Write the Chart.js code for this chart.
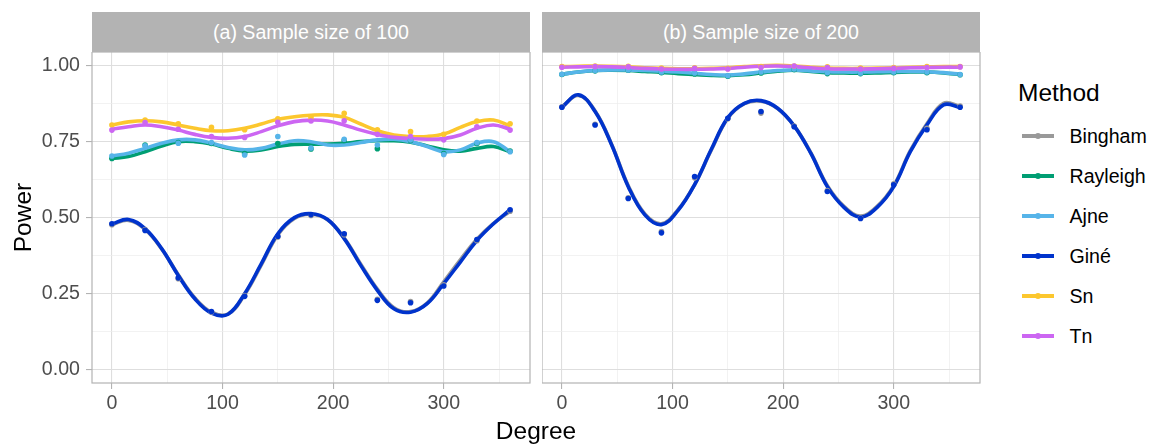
<!DOCTYPE html>
<html>
<head>
<meta charset="utf-8">
<script src="https://cdn.jsdelivr.net/npm/chart.js@4.4.1/dist/chart.umd.min.js"></script>
<style>
  html, body { margin:0; padding:0; background:#ffffff; }
  body { width:1152px; height:446px; position:relative; overflow:hidden; font-family:'Liberation Sans', Arial, sans-serif; }
  canvas { position:absolute; }
  .strip { position:absolute; top:12px; height:40px; background:#b3b3b3; color:#ffffff; font-size:19.6px;
           display:flex; align-items:center; justify-content:center; }
  .txt { position:absolute; line-height:1; white-space:nowrap; }
  .key { position:absolute; width:32px; height:4px; }
  .dot { position:absolute; width:6px; height:6px; border-radius:50%; }
</style>
</head>
<body>
<div class="strip" style="left:92px; width:438px;">(a) Sample size of 100</div>
<div class="strip" style="left:542px; width:438px;">(b) Sample size of 200</div>
<canvas id="ca" width="531" height="394" style="left:0px; top:52px;"></canvas>
<canvas id="cb" width="440" height="394" style="left:542px; top:52px;"></canvas>
<div class="txt" id="xtitle" style="left:536px; top:419px; font-size:24.5px; color:#000; transform:translateX(-50%);">Degree</div>
<div id="legend"></div>
<script>
// ---------- data ----------
const methods = ['Bingham', 'Rayleigh', 'Ajne', 'Giné', 'Sn', 'Tn'];
const methodColors = ['#999999', '#009E73', '#56B4E9', '#0033CC', '#FCC72E', '#CC66F2'];
const degrees = [0, 30, 60, 90, 120, 150, 180, 210, 240, 270, 300, 330, 360];
const curveDegrees = [0, 15, 30, 45, 60, 75, 90, 105, 120, 135, 150, 165, 180, 195, 210, 225, 240, 255, 270, 285, 300, 315, 330, 345, 360];
const xTickValues = [0, 50, 100, 150, 200, 250, 300, 350];
const yTickValues = [0, 0.125, 0.25, 0.375, 0.5, 0.625, 0.75, 0.875, 1.0];
const panelTitles = ['(a) Sample size of 100', '(b) Sample size of 200'];

// Panel (a): sample size 100 -- observed points
const binghamA  = [0.478, 0.462, 0.300, 0.190, 0.245, 0.437, 0.508, 0.445, 0.232, 0.225, 0.280, 0.425, 0.522];
const rayleighA = [0.696, 0.740, 0.748, 0.745, 0.712, 0.745, 0.727, 0.755, 0.728, 0.755, 0.712, 0.745, 0.720];
const ajneA     = [0.704, 0.737, 0.746, 0.748, 0.707, 0.768, 0.730, 0.759, 0.740, 0.757, 0.709, 0.748, 0.718];
const gineA     = [0.481, 0.459, 0.303, 0.192, 0.242, 0.440, 0.511, 0.448, 0.229, 0.221, 0.276, 0.429, 0.527];
const snA       = [0.806, 0.822, 0.810, 0.798, 0.790, 0.826, 0.830, 0.844, 0.790, 0.784, 0.775, 0.819, 0.810];
const tnA       = [0.789, 0.814, 0.792, 0.768, 0.765, 0.815, 0.819, 0.820, 0.775, 0.768, 0.757, 0.800, 0.789];
// Panel (a): smoothed curves
const binghamCurveA  = [0.478, 0.492, 0.462, 0.398, 0.313, 0.237, 0.190, 0.184, 0.248, 0.345, 0.444, 0.498, 0.512, 0.494, 0.434, 0.348, 0.266, 0.205, 0.192, 0.220, 0.290, 0.362, 0.430, 0.482, 0.522];
const rayleighCurveA = [0.696, 0.702, 0.718, 0.737, 0.751, 0.751, 0.743, 0.729, 0.720, 0.724, 0.735, 0.742, 0.743, 0.743, 0.746, 0.751, 0.754, 0.754, 0.749, 0.737, 0.724, 0.720, 0.729, 0.735, 0.718];
const ajneCurveA     = [0.704, 0.713, 0.729, 0.746, 0.757, 0.757, 0.746, 0.732, 0.724, 0.729, 0.743, 0.754, 0.751, 0.740, 0.740, 0.748, 0.757, 0.759, 0.751, 0.735, 0.718, 0.724, 0.746, 0.751, 0.718];
const gineCurveA     = [0.480, 0.495, 0.465, 0.399, 0.311, 0.234, 0.187, 0.183, 0.251, 0.349, 0.448, 0.501, 0.514, 0.495, 0.432, 0.344, 0.262, 0.201, 0.190, 0.218, 0.284, 0.355, 0.426, 0.481, 0.527];
const snCurveA       = [0.806, 0.816, 0.820, 0.816, 0.806, 0.795, 0.787, 0.787, 0.795, 0.809, 0.825, 0.833, 0.838, 0.839, 0.831, 0.809, 0.787, 0.773, 0.768, 0.768, 0.776, 0.798, 0.817, 0.822, 0.803];
const tnCurveA       = [0.792, 0.800, 0.806, 0.800, 0.789, 0.775, 0.765, 0.762, 0.768, 0.784, 0.803, 0.817, 0.822, 0.819, 0.806, 0.789, 0.775, 0.765, 0.761, 0.759, 0.761, 0.773, 0.795, 0.806, 0.792];

// Panel (b): sample size 200 -- observed points
const binghamB  = [0.866, 0.808, 0.566, 0.455, 0.632, 0.826, 0.845, 0.802, 0.590, 0.500, 0.612, 0.795, 0.868];
const rayleighB = [0.972, 0.984, 0.986, 0.978, 0.974, 0.966, 0.977, 0.988, 0.975, 0.975, 0.978, 0.978, 0.971];
const ajneB     = [0.973, 0.985, 0.987, 0.980, 0.977, 0.968, 0.980, 0.990, 0.978, 0.977, 0.980, 0.980, 0.972];
const gineB     = [0.864, 0.806, 0.564, 0.451, 0.636, 0.828, 0.850, 0.800, 0.587, 0.498, 0.609, 0.790, 0.864];
const snB       = [0.998, 1.000, 0.999, 0.993, 0.994, 0.992, 0.998, 1.000, 0.997, 0.993, 0.995, 0.998, 0.998];
const tnB       = [0.996, 0.998, 0.997, 0.990, 0.992, 0.990, 0.995, 1.000, 0.995, 0.990, 0.992, 0.995, 0.997];
// Panel (b): smoothed curves
const binghamCurveB  = [0.866, 0.903, 0.852, 0.742, 0.606, 0.513, 0.481, 0.527, 0.610, 0.723, 0.828, 0.876, 0.884, 0.860, 0.803, 0.715, 0.606, 0.538, 0.506, 0.538, 0.606, 0.722, 0.810, 0.877, 0.868];
const rayleighCurveB = [0.973, 0.980, 0.985, 0.986, 0.985, 0.982, 0.979, 0.975, 0.972, 0.969, 0.968, 0.971, 0.977, 0.983, 0.986, 0.982, 0.978, 0.977, 0.976, 0.977, 0.979, 0.980, 0.980, 0.977, 0.972];
const ajneCurveB     = [0.973, 0.980, 0.985, 0.987, 0.987, 0.985, 0.983, 0.980, 0.976, 0.972, 0.970, 0.974, 0.980, 0.985, 0.987, 0.984, 0.981, 0.980, 0.980, 0.981, 0.982, 0.982, 0.981, 0.978, 0.973];
const gineCurveB     = [0.864, 0.905, 0.850, 0.740, 0.603, 0.510, 0.478, 0.525, 0.610, 0.725, 0.830, 0.877, 0.886, 0.861, 0.803, 0.713, 0.603, 0.535, 0.503, 0.535, 0.603, 0.718, 0.806, 0.872, 0.864];
const snCurveB       = [0.998, 0.999, 1.000, 0.999, 0.997, 0.994, 0.992, 0.991, 0.991, 0.992, 0.994, 0.998, 1.001, 1.002, 1.000, 0.996, 0.993, 0.992, 0.992, 0.993, 0.994, 0.996, 0.997, 0.998, 0.998];
const tnCurveB       = [0.996, 0.997, 0.998, 0.997, 0.995, 0.992, 0.990, 0.989, 0.989, 0.990, 0.992, 0.996, 0.999, 1.000, 0.998, 0.994, 0.991, 0.990, 0.990, 0.991, 0.992, 0.994, 0.995, 0.996, 0.996];

const pointsA = [binghamA, rayleighA, ajneA, gineA, snA, tnA];
const curvesA = [binghamCurveA, rayleighCurveA, ajneCurveA, gineCurveA, snCurveA, tnCurveA];
const pointsB = [binghamB, rayleighB, ajneB, gineB, snB, tnB];
const curvesB = [binghamCurveB, rayleighCurveB, ajneCurveB, gineCurveB, snCurveB, tnCurveB];

// ---------- chart setup ----------
Chart.defaults.font.family = "'Liberation Sans', Arial, sans-serif";
Chart.defaults.animation = false;

const GRID_MAJOR = '#dedede', GRID_MINOR = '#ececec', AXIS_GREY = '#b3b3b3', TICK_TEXT = '#4d4d4d';

const borderPlugin = {
  id: 'panelBorder',
  afterDatasetsDraw(chart) {
    const a = chart.chartArea, ctx = chart.ctx;
    ctx.save();
    ctx.strokeStyle = AXIS_GREY;
    ctx.lineWidth = 1.2;
    ctx.strokeRect(a.left, a.top, a.right - a.left, a.bottom - a.top);
    ctx.restore();
  }
};

function buildDatasets(points, curves) {
  const ds = [];
  const n = methods.length;
  methods.forEach((m, i) => {
    ds.push({
      label: m + ' smooth',
      data: curveDegrees.map((d, k) => ({x: d, y: curves[i][k]})),
      borderColor: methodColors[i],
      backgroundColor: methodColors[i],
      borderWidth: 3.6,
      pointRadius: 0,
      tension: 0.4,
      fill: false,
      order: 2 * n - 1 - i
    });
  });
  methods.forEach((m, i) => {
    ds.push({
      label: m,
      data: degrees.map((d, k) => ({x: d, y: points[i][k]})),
      borderColor: methodColors[i],
      backgroundColor: methodColors[i],
      showLine: false,
      pointRadius: 2.8,
      pointBorderWidth: 0,
      order: n - 1 - i
    });
  });
  return ds;
}

function isMajorX(v) { return v % 100 === 0; }
function isMajorY(v) { return Math.abs(v / 0.25 - Math.round(v / 0.25)) < 1e-9; }

function makeOptions(showY) {
  return {
    responsive: false,
    animation: false,
    layout: { autoPadding: false, padding: { left: 0, right: showY ? 1 : 2, top: 0, bottom: 0 } },
    plugins: { legend: { display: false }, tooltip: { enabled: false }, title: { display: false } },
    scales: {
      x: {
        type: 'linear', min: -18, max: 378,
        afterBuildTicks: s => { s.ticks = xTickValues.map(v => ({value: v})); },
        ticks: {
          autoSkip: false, maxRotation: 0, minRotation: 0, padding: 3,
          color: TICK_TEXT, font: { size: 19.6 },
          callback: v => isMajorX(v) ? String(v) : ''
        },
        grid: {
          drawTicks: true, tickLength: 6,
          color: c => (c.tick && isMajorX(c.tick.value)) ? GRID_MAJOR : GRID_MINOR,
          lineWidth: c => (c.tick && isMajorX(c.tick.value)) ? 1.1 : 0.7,
          tickColor: c => (c.tick && isMajorX(c.tick.value)) ? AXIS_GREY : 'rgba(0,0,0,0)',
          tickWidth: 1.1
        },
        border: { display: false },
        afterFit: s => { s.height = 63; s.paddingLeft = 0; s.paddingRight = 0; }
      },
      y: {
        type: 'linear', min: -0.043, max: 1.046,
        afterBuildTicks: s => { s.ticks = yTickValues.map(v => ({value: v})); },
        ticks: {
          display: showY, padding: 6, color: TICK_TEXT, font: { size: 19.6 },
          callback: v => isMajorY(v) ? v.toFixed(2) : ''
        },
        title: showY ? { display: true, text: 'Power', color: '#000000', font: { size: 24.5 }, padding: { top: 10, bottom: 0 } } : { display: false },
        grid: {
          drawTicks: showY, tickLength: 6,
          color: c => (c.tick && isMajorY(c.tick.value)) ? GRID_MAJOR : GRID_MINOR,
          lineWidth: c => (c.tick && isMajorY(c.tick.value)) ? 1.1 : 0.7,
          tickColor: c => (c.tick && isMajorY(c.tick.value)) ? AXIS_GREY : 'rgba(0,0,0,0)',
          tickWidth: 1.1
        },
        border: { display: false },
        afterFit: s => { s.width = showY ? 92 : 0; s.paddingTop = 0; s.paddingBottom = 0; }
      }
    }
  };
}

new Chart(document.getElementById('ca'), {
  type: 'line',
  data: { datasets: buildDatasets(pointsA, curvesA) },
  options: makeOptions(true),
  plugins: [borderPlugin]
});
new Chart(document.getElementById('cb'), {
  type: 'line',
  data: { datasets: buildDatasets(pointsB, curvesB) },
  options: makeOptions(false),
  plugins: [borderPlugin]
});

// ---------- legend (HTML) ----------
const legend = document.getElementById('legend');
const title = document.createElement('div');
title.className = 'txt';
title.style.cssText = 'left:1018px; top:81px; font-size:24.5px; color:#000;';
title.textContent = 'Method';
legend.appendChild(title);
methods.forEach((m, i) => {
  const cy = 136 + 40 * i;
  const key = document.createElement('div');
  key.className = 'key';
  key.style.cssText = `left:1022px; top:${cy - 2}px; background:${methodColors[i]};`;
  legend.appendChild(key);
  const dot = document.createElement('div');
  dot.className = 'dot';
  dot.style.cssText = `left:${1038 - 3}px; top:${cy - 3}px; background:${methodColors[i]};`;
  legend.appendChild(dot);
  const lab = document.createElement('div');
  lab.className = 'txt';
  lab.style.cssText = `left:1069.5px; top:${cy - 8.6}px; font-size:19.6px; color:#000;`;
  lab.textContent = m;
  legend.appendChild(lab);
});
</script>
</body>
</html>
